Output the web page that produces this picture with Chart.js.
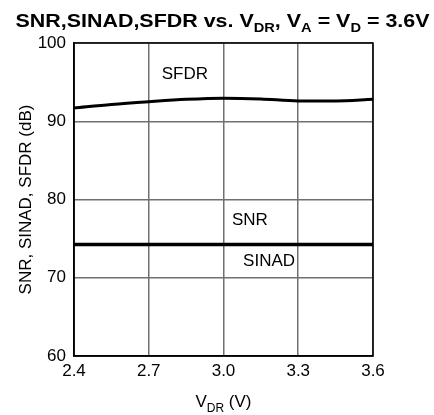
<!DOCTYPE html>
<html>
<head>
<meta charset="utf-8">
<script src="https://cdn.jsdelivr.net/npm/chart.js@4"></script>
<style>
  html, body { margin: 0; padding: 0; background: #fff; }
  #wrap { width: 434px; height: 415px; position: relative; }
</style>
</head>
<body>
<div id="wrap"><canvas id="c" width="434" height="415"></canvas></div>
<script>
// ---- data ----
const vdr = [2.4, 2.55, 2.7, 2.85, 3.0, 3.15, 3.3, 3.45, 3.6];
const sfdr = [91.7, 92.15, 92.5, 92.8, 92.95, 92.85, 92.6, 92.6, 92.8];
const snr = [74.3, 74.3, 74.3, 74.3, 74.3, 74.3, 74.3, 74.3, 74.3];
const sinad = [74.2, 74.2, 74.2, 74.2, 74.2, 74.2, 74.2, 74.2, 74.2];
const xTicks = [2.4, 2.7, 3.0, 3.3, 3.6];
const yTicks = [60, 70, 80, 90, 100];
const seriesNames = ['SFDR', 'SNR', 'SINAD'];
const labelAnchors = [[2.845, 96.0], [3.106, 77.4], [3.183, 72.1]];

const FONT = '"Liberation Sans", Arial, sans-serif';

function pts(ys) { return vdr.map((x, i) => ({x: x, y: ys[i]})); }

function drawRich(ctx, parts, cx, baseline, size, subSize, weight, subShift, targetWidth) {
  let total = 0;
  parts.forEach(p => {
    ctx.font = weight + ' ' + (p.sub ? subSize : size) + 'px ' + FONT;
    p.w = ctx.measureText(p.t).width;
    total += p.w;
  });
  const sx = targetWidth ? targetWidth / total : 1;
  ctx.save();
  ctx.translate(cx - total * sx / 2, baseline);
  ctx.scale(sx, 1);
  let x = 0;
  ctx.textAlign = 'left';
  ctx.textBaseline = 'alphabetic';
  parts.forEach(p => {
    ctx.font = weight + ' ' + (p.sub ? subSize : size) + 'px ' + FONT;
    ctx.fillText(p.t, x, p.sub ? subShift : 0);
    x += p.w;
  });
  ctx.restore();
}

const decor = {
  id: 'decor',
  afterDatasetsDraw(chart) {
    const ctx = chart.ctx, a = chart.chartArea;
    const xs = chart.scales.x, ys = chart.scales.y;
    ctx.save();
    // frame
    ctx.strokeStyle = '#000';
    ctx.lineWidth = 1.5;
    ctx.strokeRect(a.left, a.top, a.right - a.left, a.bottom - a.top);
    ctx.fillStyle = '#000';
    // series labels
    ctx.font = '17px ' + FONT;
    ctx.textAlign = 'center';
    ctx.textBaseline = 'middle';
    seriesNames.forEach((n, i) => {
      ctx.fillText(n, xs.getPixelForValue(labelAnchors[i][0]), ys.getPixelForValue(labelAnchors[i][1]));
    });
    // title
    drawRich(ctx, [
      {t: 'SNR,SINAD,SFDR vs. V'}, {t: 'DR', sub: true}, {t: ', V'}, {t: 'A', sub: true},
      {t: ' = V'}, {t: 'D', sub: true}, {t: ' = 3.6V'}
    ], 222.5, 27, 19, 13, 'bold', 5, 414);
    // x title
    drawRich(ctx, [{t: 'V'}, {t: 'DR', sub: true}, {t: ' (V)'}],
      (a.left + a.right) / 2, 407, 17, 12, 'normal', 5);
    // y title
    ctx.translate(26.5, (a.top + a.bottom) / 2);
    ctx.rotate(-Math.PI / 2);
    ctx.font = '17px ' + FONT;
    ctx.textAlign = 'center';
    ctx.textBaseline = 'middle';
    ctx.fillText('SNR, SINAD, SFDR (dB)', 0, 0);
    ctx.restore();
  }
};

new Chart(document.getElementById('c'), {
  type: 'line',
  data: {
    datasets: [
      {label: 'SFDR', data: pts(sfdr), borderColor: '#000', borderWidth: 3, pointRadius: 0, tension: 0.4, cubicInterpolationMode: 'monotone'},
      {label: 'SNR', data: pts(snr), borderColor: '#000', borderWidth: 2.5, pointRadius: 0},
      {label: 'SINAD', data: pts(sinad), borderColor: '#000', borderWidth: 2.5, pointRadius: 0}
    ]
  },
  options: {
    responsive: false,
    animation: false,
    events: [],
    layout: {padding: {top: 43, right: 61, left: 0, bottom: 0}},
    plugins: {legend: {display: false}, title: {display: false}, tooltip: {enabled: false}},
    scales: {
      x: {
        type: 'linear', min: 2.4, max: 3.6,
        afterBuildTicks: s => { s.ticks = xTicks.map(v => ({value: v})); },
        afterFit: s => { s.height = 59; },
        ticks: {color: '#000', font: {family: FONT, size: 17}, padding: 5, maxRotation: 0,
          callback: v => Number(v).toFixed(1)},
        grid: {color: '#707070', lineWidth: 1.5, drawTicks: false},
        border: {color: '#000', width: 1.5}
      },
      y: {
        type: 'linear', min: 60, max: 100,
        afterBuildTicks: s => { s.ticks = yTicks.map(v => ({value: v})); },
        afterFit: s => { s.width = 74; },
        ticks: {color: '#000', font: {family: FONT, size: 17}, padding: 8},
        grid: {color: '#707070', lineWidth: 1.5, drawTicks: false},
        border: {color: '#000', width: 1.5}
      }
    }
  },
  plugins: [decor]
});
</script>
</body>
</html>
